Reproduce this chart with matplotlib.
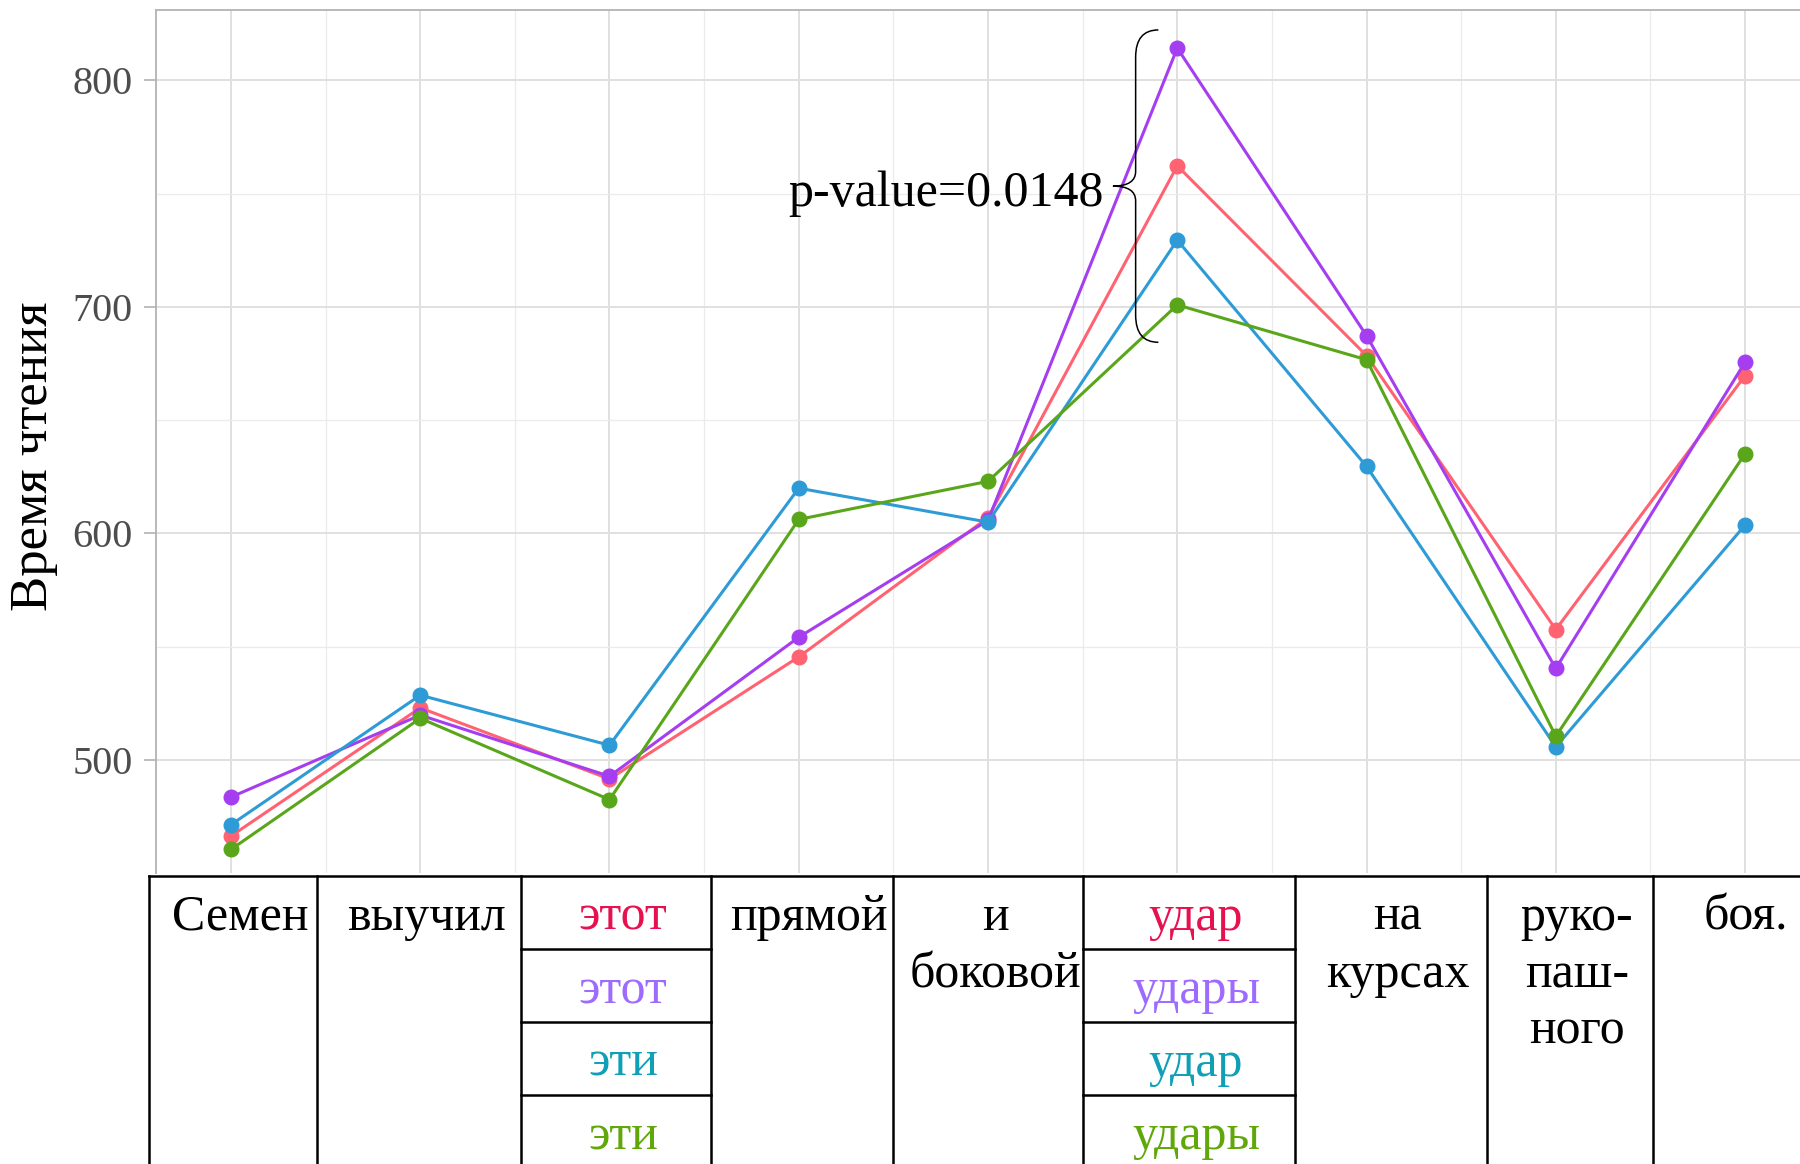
import matplotlib.pyplot as plt
from matplotlib.path import Path
from matplotlib.patches import PathPatch
import numpy as np

# reading times per word position, one series per condition
positions = np.arange(1, 10)
red_vals = [466.4, 523.0, 491.6, 545.5, 607.0, 762.3, 678.5, 557.6, 669.7]
purple_vals = [483.6, 519.8, 492.8, 554.2, 605.8, 814.3, 687.3, 540.4, 675.6]
blue_vals = [471.4, 528.6, 506.5, 620.0, 605.0, 729.5, 629.6, 505.8, 603.7]
green_vals = [460.5, 518.4, 482.5, 606.2, 623.0, 700.9, 676.7, 510.5, 635.2]

line_colors = ['#FF6372', '#A53EF0', '#2E9BD6', '#59A61B']
word_colors = ['#E5124F', '#9E6BFF', '#0F9FB6', '#60A70A']

p_text = 'p-value=0.0148'
crit = 6  # position of the compared word

# table below the plot: column words, split columns hold one word per condition
col_edges = [149, 317, 521, 711, 893, 1083, 1295, 1487, 1653, 1825]
col_words = [['Семен'], ['выучил'], None, ['прямой'], ['и', 'боковой'], None,
             ['на', 'курсах'], ['руко-', 'паш-', 'ного'], ['боя.']]
split_words = {2: ['этот', 'этот', 'эти', 'эти'],
               5: ['удар', 'удары', 'удар', 'удары']}

plt.rcParams['font.family'] = ['Liberation Serif', 'DejaVu Serif']

W, H = 1800, 1164
fig = plt.figure(figsize=(W / 100, H / 100), dpi=100)

ax = fig.add_axes([156 / W, 1 - 873 / H, (1810 - 156) / W, (873 - 10) / H])
ax.set_xlim(0.604, 9.343)
ax.set_ylim(450.1, 831.1)

series = [red_vals, purple_vals, blue_vals, green_vals]
for vals, c in zip(series, line_colors):
    ax.plot(positions, vals, color=c, lw=2.2, marker='o', ms=10.5, zorder=3)

ax.set_xticks(positions)
ax.set_xticks(positions[:-1] + 0.5, minor=True)
ax.set_yticks([500, 600, 700, 800])
ax.set_yticks([550, 650, 750], minor=True)
ax.grid(which='major', color='#E0E0E0', lw=1.4)
ax.grid(which='minor', color='#EBEBEB', lw=0.9)
ax.set_axisbelow(True)
ax.tick_params(axis='x', which='both', length=0, labelbottom=False)
ax.tick_params(axis='y', which='major', length=9, width=1.2, color='#B3B3B3',
               labelsize=29, labelcolor='#4D4D4D', pad=8)
ax.tick_params(axis='y', which='minor', length=0)
for side in ['right', 'bottom']:
    ax.spines[side].set_visible(False)
for side in ['top', 'left']:
    ax.spines[side].set_color('#B3B3B3')
    ax.spines[side].set_linewidth(1.3)
ax.set_ylabel('Время чтения', fontsize=38)
ax.yaxis.set_label_coords(-0.059, 0.483)

# curly brace over the values at the compared word
crit_vals = [s[crit - 1] for s in series]
y_top = max(crit_vals) + 8
y_bot = min(crit_vals) - 16.5
y_mid = (y_top + y_bot) / 2
x_tip, x_v, x_m = crit - 0.10, crit - 0.22, crit - 0.34
r1, r2 = 12, 6.5
verts = [(x_tip, y_top), (x_v, y_top), (x_v, y_top - r1),
         (x_v, y_mid + r2), (x_v, y_mid), (x_m, y_mid),
         (x_v, y_mid), (x_v, y_mid - r2),
         (x_v, y_bot + r1), (x_v, y_bot), (x_tip, y_bot)]
codes = [Path.MOVETO, Path.CURVE3, Path.CURVE3,
         Path.LINETO, Path.CURVE3, Path.CURVE3,
         Path.CURVE3, Path.CURVE3,
         Path.LINETO, Path.CURVE3, Path.CURVE3]
ax.add_patch(PathPatch(Path(verts, codes), fill=False, ec='black', lw=1.1, zorder=4))
ax.text(x_m - 0.05, y_mid - 9, p_text, ha='right', va='baseline', fontsize=36)

# table
tab = fig.add_axes([0, 0, 1, 1])
tab.set_xlim(0, W)
tab.set_ylim(H, 0)
tab.axis('off')
tab.patch.set_visible(False)
top = 876
row_h = 73
lw = 1.8
tab.plot([col_edges[0], W], [top, top], color='black', lw=lw)
for x in col_edges[:-1]:
    tab.plot([x, x], [top, H], color='black', lw=lw)
for i, words in enumerate(col_words):
    cx = (col_edges[i] + col_edges[i + 1]) / 2 + 7
    if words is None:
        for k, (w, c) in enumerate(zip(split_words[i], word_colors)):
            tab.text(cx, top + 54 + k * row_h, w, color=c, ha='center',
                     va='baseline', fontsize=36)
            if k > 0:
                tab.plot([col_edges[i], col_edges[i + 1]], [top + k * row_h] * 2,
                         color='black', lw=lw)
    else:
        for k, w in enumerate(words):
            tab.text(cx, top + 54 + k * 57, w, color='black', ha='center',
                     va='baseline', fontsize=36)

fig.savefig('out.png', dpi=100)
